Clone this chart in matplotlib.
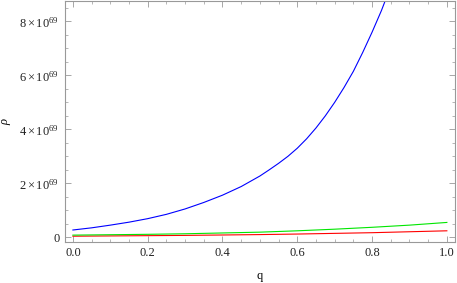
import numpy as np
import matplotlib.pyplot as plt
from matplotlib.ticker import MultipleLocator, FuncFormatter

# valores (rho en unidades de 1e69)
q_blue = [0.00, 0.05, 0.10, 0.15, 0.20, 0.25, 0.30, 0.35, 0.40, 0.45,
          0.50, 0.525, 0.55, 0.575, 0.60, 0.625, 0.65, 0.675, 0.70,
          0.725, 0.75, 0.775, 0.80, 0.825, 0.85]
rho_blue = [0.27, 0.35, 0.45, 0.56, 0.69, 0.85, 1.05, 1.29, 1.56, 1.88,
            2.27, 2.50, 2.74, 3.00, 3.30, 3.65, 4.05, 4.50, 5.00,
            5.55, 6.15, 6.85, 7.60, 8.40, 9.30]

q_lo = [0.0, 0.1, 0.2, 0.3, 0.4, 0.5, 0.6, 0.7, 0.8, 0.9, 1.0]
rho_green = [0.08, 0.095, 0.11, 0.13, 0.16, 0.19, 0.24, 0.30, 0.37, 0.45, 0.55]
rho_red = [0.04, 0.05, 0.06, 0.07, 0.085, 0.10, 0.12, 0.145, 0.17, 0.205, 0.24]

SCALE = 1e69

plt.rcParams['font.family'] = ['Liberation Serif', 'DejaVu Serif']
plt.rcParams['mathtext.fontset'] = 'custom'
plt.rcParams['mathtext.rm'] = 'Liberation Serif'
plt.rcParams['mathtext.it'] = 'Liberation Serif:italic'

fig = plt.figure(figsize=(4.57, 2.83), dpi=100)
ax = fig.add_axes([0.142, 0.146, 0.854, 0.850])

ax.plot(q_lo, np.array(rho_red) * SCALE, color=(1.0, 0.0, 0.0), lw=0.8)
ax.plot(q_lo, np.array(rho_green) * SCALE, color=(0.0, 0.9, 0.0), lw=0.8)
ax.plot(q_blue, np.array(rho_blue) * SCALE, color=(0.0, 0.0, 1.0), lw=0.8)

ax.set_xlim(-0.0214, 1.0222)
ax.set_ylim(-0.163 * SCALE, 8.75 * SCALE)

ax.xaxis.set_major_locator(MultipleLocator(0.2))
ax.xaxis.set_minor_locator(MultipleLocator(0.05))
ax.yaxis.set_major_locator(MultipleLocator(2 * SCALE))
ax.yaxis.set_minor_locator(MultipleLocator(0.5 * SCALE))

def fmt_y(v, pos):
    n = int(round(v / SCALE))
    if n == 0:
        return "0"
    return r"$%d\times10^{69}$" % n

ax.yaxis.set_major_formatter(FuncFormatter(fmt_y))
ax.xaxis.set_major_formatter(FuncFormatter(lambda v, p: "%.1f" % v))

frame = "#999999"
for s in ax.spines.values():
    s.set_color(frame)
    s.set_linewidth(0.8)

ax.tick_params(which="both", direction="in", top=True, right=True,
               color=frame, labelsize=9, labelcolor="#222222")
ax.tick_params(which="major", length=4, width=0.6, pad=4)
ax.tick_params(which="minor", length=2, width=0.5)

ax.set_xlabel("q", fontsize=9, labelpad=8)
ax.set_ylabel(r"$\rho$", fontsize=9, labelpad=5)

fig.savefig("out.png", dpi=100)
